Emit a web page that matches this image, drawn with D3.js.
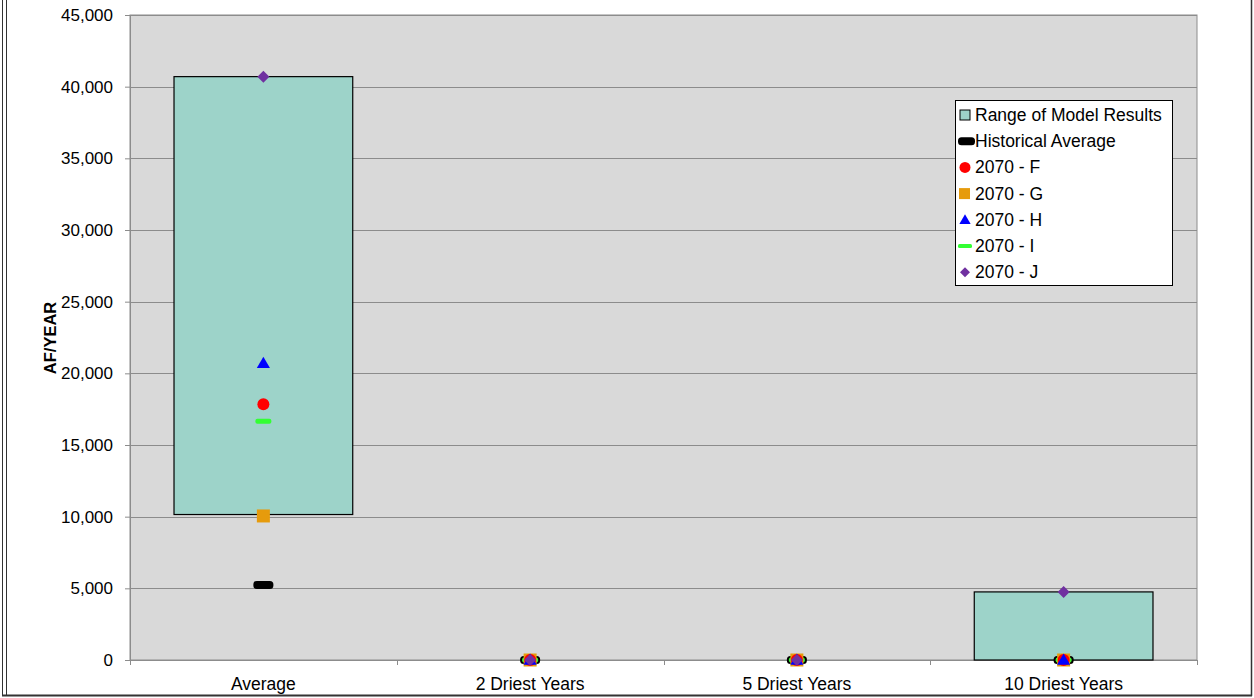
<!DOCTYPE html>
<html>
<head>
<meta charset="utf-8">
<script src="https://cdn.jsdelivr.net/npm/d3@7"></script>
<style>
  body { margin: 0; background: #fff; }
  text { font-family: "Liberation Sans", Arial, sans-serif; fill: #000; }
</style>
</head>
<body>
<svg id="chart"></svg>
<script>
const categories = ['Average', '2 Driest Years', '5 Driest Years', '10 Driest Years'];
const rangeLow  = [10150, 0, 0, 0];
const rangeHigh = [40700, 0, 0, 4750];
const historical = [5230, 0, 0, 0];
const series2070F = [17850, 0, 0, 0];
const series2070G = [10050, 0, 0, 0];
const series2070H = [20700, 0, 0, 0];
const series2070I = [16650, 0, 0, 0];
const series2070J = [40700, 0, 0, 4750];
const yTicks = [0, 5000, 10000, 15000, 20000, 25000, 30000, 35000, 40000, 45000];

const width = 1254, height = 698;
const margin = {top: 15, right: 57, bottom: 38, left: 130};
const innerW = width - margin.left - margin.right;
const innerH = height - margin.top - margin.bottom;

const svg = d3.select('#chart').attr('width', width).attr('height', height);

// outer frame
svg.append('line').attr('x1', 2.5).attr('x2', 2.5).attr('y1', 0).attr('y2', 696).attr('stroke', '#333').attr('stroke-width', 1);
svg.append('line').attr('x1', 6.5).attr('x2', 6.5).attr('y1', 0).attr('y2', 696).attr('stroke', '#333').attr('stroke-width', 1);
svg.append('line').attr('x1', 1251.5).attr('x2', 1251.5).attr('y1', 0).attr('y2', 696).attr('stroke', '#333').attr('stroke-width', 1.5);
svg.append('line').attr('x1', 2).attr('x2', 1252).attr('y1', 695.5).attr('y2', 695.5).attr('stroke', '#333').attr('stroke-width', 2);

const chart = svg.append('g').attr('transform', `translate(${margin.left},${margin.top})`);

const x = d3.scaleBand().domain(categories).range([0, innerW]);
const y = d3.scaleLinear().domain([0, 45000]).range([innerH, 0]);

// plot background
chart.append('rect').attr('width', innerW).attr('height', innerH)
  .attr('fill', '#d9d9d9').attr('stroke', '#8c8c8c');

// gridlines
chart.append('g').selectAll('line').data(yTicks).join('line')
  .attr('x1', 0).attr('x2', innerW)
  .attr('y1', d => Math.round(y(d)) + 0.5).attr('y2', d => Math.round(y(d)) + 0.5)
  .attr('stroke', '#8c8c8c');

// y axis
const yAxis = d3.axisLeft(y).tickValues(yTicks).tickFormat(d3.format(',')).tickSize(5).tickPadding(12);
const yG = chart.append('g').call(yAxis);
yG.select('.domain').attr('stroke', '#8c8c8c');
yG.selectAll('.tick line').attr('stroke', '#8c8c8c');
yG.selectAll('.tick text').style('font-size', '17px').style('font-family', '"Liberation Sans", Arial, sans-serif');

// x axis
const xG = chart.append('g').attr('transform', `translate(0,${innerH})`);
xG.append('line').attr('x1', 0).attr('x2', innerW).attr('y1', 0.5).attr('y2', 0.5).attr('stroke', '#8c8c8c');
xG.selectAll('.xt').data(d3.range(categories.length + 1)).join('line')
  .attr('x1', i => Math.round(i * x.step()) + 0.5).attr('x2', i => Math.round(i * x.step()) + 0.5)
  .attr('y1', 0).attr('y2', 5).attr('stroke', '#8c8c8c');
xG.selectAll('.xl').data(categories).join('text')
  .attr('x', d => x(d) + x.bandwidth() / 2).attr('y', 30)
  .attr('text-anchor', 'middle').style('font-size', '17.5px').text(d => d);

// y label
svg.append('text').attr('transform', `translate(56,338) rotate(-90)`)
  .attr('text-anchor', 'middle').style('font-size', '16.5px').style('font-weight', 'bold').text('AF/YEAR');

// range boxes
const boxW = x.bandwidth() * 0.67;
chart.append('g').selectAll('rect').data(categories).join('rect')
  .attr('x', d => x(d) + (x.bandwidth() - boxW) / 2)
  .attr('width', boxW)
  .attr('y', (d, i) => y(rangeHigh[i]))
  .attr('height', (d, i) => y(rangeLow[i]) - y(rangeHigh[i]))
  .attr('fill', '#9dd3c9').attr('stroke', '#000').attr('stroke-width', 1.2)
  .style('display', (d, i) => rangeHigh[i] > rangeLow[i] ? null : 'none');

const cx = d => x(d) + x.bandwidth() / 2;
const markerG = chart.append('g');
const diamond = (w, h) => `M0,${-h / 2}L${w / 2},0L0,${h / 2}L${-w / 2},0Z`;

// historical average (black dash)
markerG.selectAll('.hist').data(categories).join('rect')
  .attr('x', d => cx(d) - 10).attr('y', (d, i) => y(historical[i]) - 4)
  .attr('width', 20).attr('height', 8).attr('rx', 3.5).attr('fill', '#000');
// I green dash
markerG.selectAll('.si').data(categories).join('rect')
  .attr('x', d => cx(d) - 8).attr('y', (d, i) => y(series2070I[i]) - 2.5)
  .attr('width', 16).attr('height', 5).attr('rx', 2).attr('fill', '#33ff33');
// G orange square
markerG.selectAll('.sg').data(categories).join('rect')
  .attr('x', d => cx(d) - 6.5).attr('y', (d, i) => y(series2070G[i]) - 6.5)
  .attr('width', 13).attr('height', 13).attr('fill', '#e69b0c');
// F red circle
markerG.selectAll('.sf').data(categories).join('circle')
  .attr('cx', cx).attr('cy', (d, i) => y(series2070F[i])).attr('r', 6).attr('fill', '#ff0000');
// H blue triangle
markerG.selectAll('.sh').data(categories).join('path')
  .attr('d', d3.symbol(d3.symbolTriangle, 75))
  .attr('transform', (d, i) => `translate(${cx(d)},${y(series2070H[i]) + 1})`).attr('fill', '#0000ff');
// J purple diamond
markerG.selectAll('.sj').data(categories).join('path')
  .attr('d', diamond(12, 12))
  .attr('transform', (d, i) => `translate(${cx(d)},${y(series2070J[i])})`).attr('fill', '#7030a0');

// legend
const legend = svg.append('g').attr('transform', 'translate(955,100)');
legend.append('rect').attr('x', 0.5).attr('y', 0.5).attr('width', 217).attr('height', 185)
  .attr('fill', '#fff').attr('stroke', '#000');
const legendItems = ['Range of Model Results', 'Historical Average', '2070 - F', '2070 - G', '2070 - H', '2070 - I', '2070 - J'];
const ly = i => 15 + i * 26.2;
legendItems.forEach((t, i) => {
  legend.append('text').attr('x', 20).attr('y', ly(i) + 6).style('font-size', '17.5px').text(t);
});
legend.append('rect').attr('x', 5).attr('y', ly(0) - 5).attr('width', 10).attr('height', 10).attr('fill', '#9dd3c9').attr('stroke', '#000');
legend.append('rect').attr('x', 3).attr('y', ly(1) - 4).attr('width', 17).attr('height', 8).attr('rx', 3.5).attr('fill', '#000');
legend.append('circle').attr('cx', 10).attr('cy', ly(2)).attr('r', 5.5).attr('fill', '#ff0000');
legend.append('rect').attr('x', 4).attr('y', ly(3) - 5.5).attr('width', 11).attr('height', 11).attr('fill', '#e69b0c');
legend.append('path').attr('d', d3.symbol(d3.symbolTriangle, 55)).attr('transform', `translate(10,${ly(4) + 1})`).attr('fill', '#0000ff');
legend.append('rect').attr('x', 3).attr('y', ly(5) - 2).attr('width', 14).attr('height', 4).attr('rx', 1.5).attr('fill', '#33ff33');
legend.append('path').attr('d', diamond(10, 10)).attr('transform', `translate(10,${ly(6)})`).attr('fill', '#7030a0');
</script>
</body>
</html>
